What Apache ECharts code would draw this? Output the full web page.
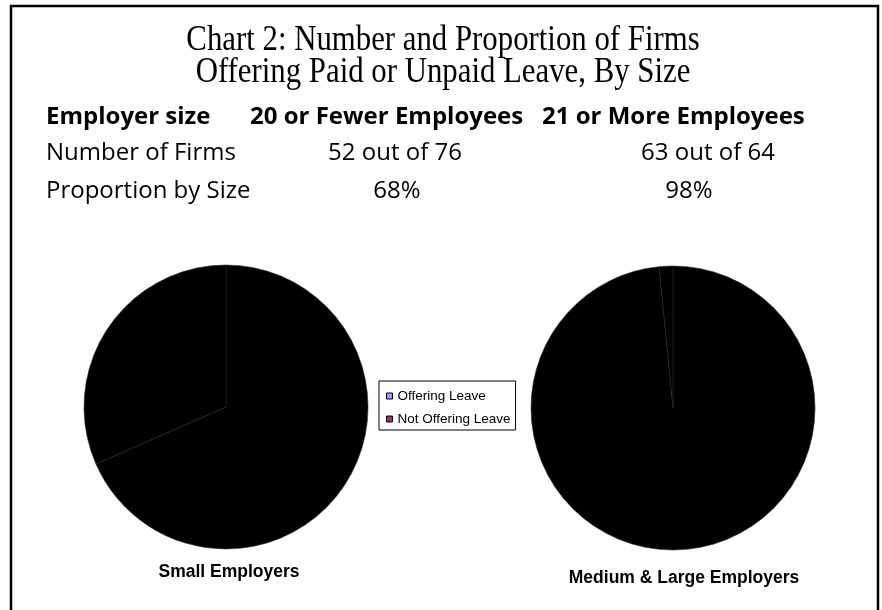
<!DOCTYPE html>
<html><head><meta charset="utf-8">
<script src="https://cdn.jsdelivr.net/npm/echarts@6/dist/echarts.min.js"></script>
<style>html,body{margin:0;padding:0;background:#fff}#c{width:882px;height:610px}</style>
</head><body><div id="c"></div>
<script>
var titleLines = ['Chart 2: Number and Proportion of Firms', 'Offering Paid or Unpaid Leave, By Size'];
var headerRow = ['Employer size', '20 or Fewer Employees', '21 or More Employees'];
var firmsRow = ['Number of Firms', '52 out of 76', '63 out of 64'];
var propRow = ['Proportion by Size', '68%', '98%'];
var sliceNames = ['Offering Leave', 'Not Offering Leave'];
var smallValues = [52, 24];
var largeValues = [63, 1];
var pieTitles = ['Small Employers', 'Medium & Large Employers'];
var legendColors = ['#9999FF', '#993366'];

var chart = echarts.init(document.getElementById('c'), null, {renderer: 'canvas'});
var tfont = '"Open Sans", "Noto Sans", sans-serif';
function txt(s, x, y, size, weight, align, family, sx) {
  return {type: 'text', x: x, y: y, scaleX: sx || 1, style: {text: s, x: 0, y: 0, fill: '#000',
    font: (weight || 'normal') + ' ' + size + 'px ' + (family || tfont), textAlign: align || 'left', textVerticalAlign: 'middle'}};
}
var serif = '"Liberation Serif", serif';
var arial = '"Liberation Sans", Arial, sans-serif';
var g = [
  {type: 'rect', shape: {x: 11, y: 6, width: 867, height: 620}, style: {fill: 'none', stroke: '#000', lineWidth: 2.5}},
  txt(titleLines[0], 443, 41, 35, 'normal', 'center', serif, 0.88),
  txt(titleLines[1], 443, 73, 35, 'normal', 'center', serif, 0.88),
  txt(headerRow[0], 46, 117, 24, 'bold'),
  txt(headerRow[1], 250, 117, 24, 'bold'),
  txt(headerRow[2], 542, 117, 24, 'bold'),
  txt(firmsRow[0], 46, 153, 24),
  txt(firmsRow[1], 395, 153, 24, 'normal', 'center'),
  txt(firmsRow[2], 708, 153, 24, 'normal', 'center'),
  txt(propRow[0], 46, 191, 24),
  txt(propRow[1], 397, 191, 24, 'normal', 'center'),
  txt(propRow[2], 689, 191, 24, 'normal', 'center'),
  txt(pieTitles[0], 229, 572, 17.5, 'bold', 'center', arial),
  txt(pieTitles[1], 684, 578, 17.5, 'bold', 'center', arial)
];

function pieData(vals) {
  return vals.map(function (v, i) { return {name: sliceNames[i], value: v}; });
}
var pieStyle = {color: '#000', borderColor: '#3a1f33', borderWidth: 0.6};
chart.setOption({
  animation: false,
  backgroundColor: '#fff',
  legend: {
    orient: 'vertical', left: 379, top: 381,
    data: sliceNames.map(function (n, i) {
      return {name: n, itemStyle: {color: legendColors[i], borderColor: '#000', borderWidth: 1}};
    }),
    icon: 'rect', itemWidth: 6, itemHeight: 6, itemGap: 9,
    borderColor: '#000', borderWidth: 1, padding: [8, 5, 4, 7],
    textStyle: {fontFamily: arial, fontSize: 13.5, color: '#000', padding: [0, 0, 0, 0]},
    selectedMode: false
  },
  series: [
    {type: 'pie', center: [226, 407], radius: 142, startAngle: 90, clockwise: true,
     label: {show: false}, labelLine: {show: false}, emphasis: {disabled: true},
     itemStyle: pieStyle, data: pieData(smallValues)},
    {type: 'pie', center: [673, 408], radius: 142, startAngle: 90, clockwise: true,
     label: {show: false}, labelLine: {show: false}, emphasis: {disabled: true},
     itemStyle: pieStyle, data: pieData(largeValues)}
  ],
  graphic: g
});
</script></body></html>
